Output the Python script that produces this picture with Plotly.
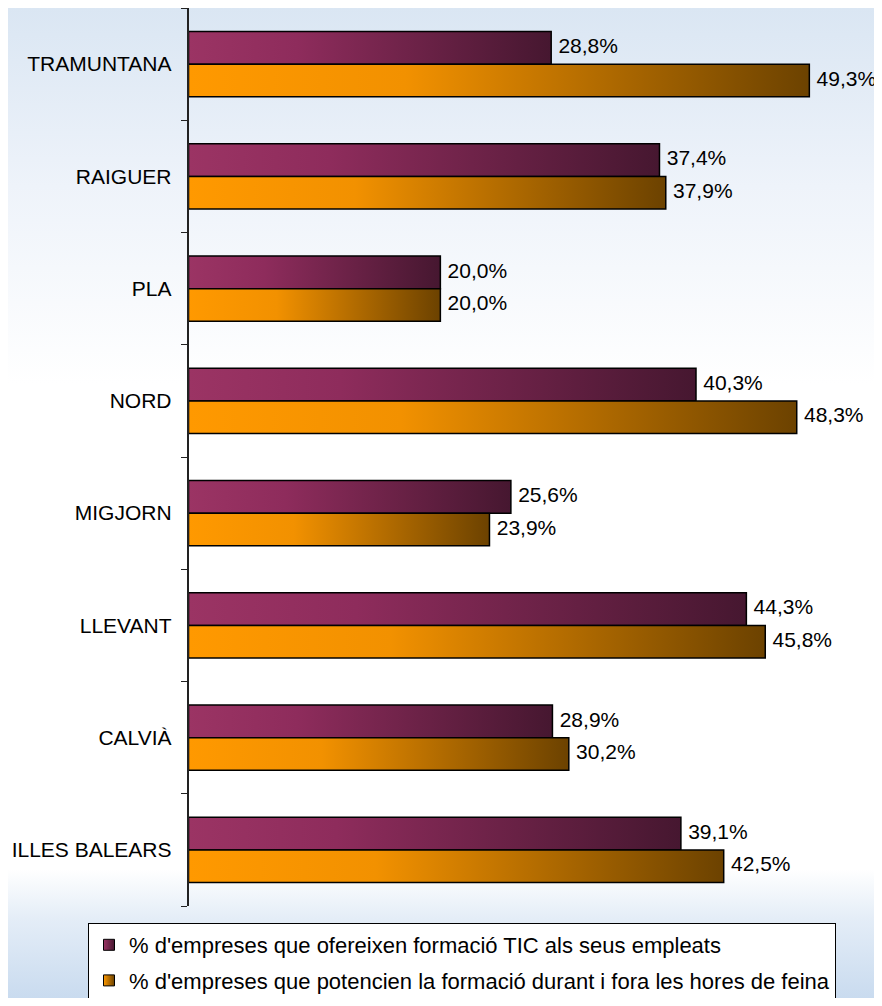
import plotly.graph_objects as go

# data
regions = ["TRAMUNTANA", "RAIGUER", "PLA", "NORD", "MIGJORN", "LLEVANT", "CALVIÀ", "ILLES BALEARS"]
formacio_tic = [28.8, 37.4, 20.0, 40.3, 25.6, 44.3, 28.9, 39.1]
formacio_hores = [49.3, 37.9, 20.0, 48.3, 23.9, 45.8, 30.2, 42.5]
series_names = [
    "% d'empreses que ofereixen formació TIC als seus empleats",
    "% d'empreses que potencien la formació durant i fora les hores de feina",
]

purple_scale = [[0, "#9b3464"], [0.3, "#8e2c5c"], [1, "#461730"]]
orange_scale = [[0, "#ff9900"], [0.35, "#f29100"], [1, "#6c4200"]]
FONT = "Liberation Sans, Arial, sans-serif"

# page body adds an 8px margin, so the figure is 874x990
W, H = 874, 990

fig = go.Figure()

# light blue background wash (own hidden axes, drawn first)
fig.add_trace(go.Scatter(
    x=[0, 1, 1, 0, 0], y=[0, 0, 1, 1, 0],
    xaxis="x", yaxis="y",
    mode="lines", line=dict(width=0), fill="toself",
    fillgradient=dict(type="vertical", colorscale=[
        [0, "#c9dbef"], [0.08, "#e4edf7"], [0.13, "#ffffff"],
        [0.62, "#ffffff"], [0.82, "#eef3fa"], [1, "#dae6f3"]]),
    hoverinfo="skip", showlegend=False,
))

half = 0.29
for k, (values, scale) in enumerate([(formacio_tic, purple_scale), (formacio_hores, orange_scale)]):
    for i, v in enumerate(values):
        y0 = i - half if k == 0 else i
        y1 = i if k == 0 else i + half
        # one gradient-filled rectangle per bar
        fig.add_trace(go.Scatter(
            x=[0, v, v, 0, 0], y=[y0, y0, y1, y1, y0],
            xaxis="x2", yaxis="y2",
            mode="lines", line=dict(color="black", width=1.5),
            fill="toself",
            fillgradient=dict(type="horizontal", colorscale=scale),
            hoverinfo="skip", showlegend=False,
        ))
    # value labels
    ys = [i - half / 2 if k == 0 else i + half / 2 for i in range(len(values))]
    fig.add_trace(go.Scatter(
        x=values, y=ys, xaxis="x2", yaxis="y2",
        mode="markers+text",
        marker=dict(size=10, color="rgba(0,0,0,0)"),
        text=[f"{v:.1f}".replace(".", ",") + "%" for v in values],
        textposition="middle right",
        textfont=dict(family=FONT, size=21, color="black"),
        hoverinfo="skip", showlegend=False,
    ))

# legend entries
for k, scale in enumerate([purple_scale, orange_scale]):
    fig.add_trace(go.Scatter(
        x=[None], y=[None], xaxis="x2", yaxis="y2",
        mode="markers", name=series_names[k], legendgroup=f"g{k}",
        marker=dict(symbol="square", size=11, color=scale[0][1],
                    gradient=dict(type="horizontal", color=scale[-1][1]),
                    line=dict(color="black", width=1)),
    ))

centers = list(range(len(regions)))
bounds = [i - 0.5 for i in range(len(regions) + 1)]

fig.update_layout(
    width=W, height=H, autosize=False,
    margin=dict(l=0, r=0, t=0, b=0, autoexpand=False),
    paper_bgcolor="white", plot_bgcolor="rgba(0,0,0,0)",
    font=dict(family=FONT, size=21, color="black"),
    xaxis=dict(domain=[0, 1], range=[0, 1], visible=False, fixedrange=True),
    yaxis=dict(domain=[0, 1], range=[0, 1], visible=False, fixedrange=True),
    xaxis2=dict(domain=[180.5 / W, 1], range=[0, 55.07], visible=False, anchor="y2"),
    yaxis2=dict(
        domain=[1 - 898 / H, 1], range=[7.5, -0.5], anchor="x2",
        tickmode="array", tickvals=centers, ticktext=regions, ticks="",
        ticklabelstandoff=11,
        showline=True, linecolor="#222222", linewidth=1.5,
        showgrid=False, zeroline=False,
        tickfont=dict(family=FONT, size=21, color="black"),
        minor=dict(tickmode="array", tickvals=bounds, ticks="outside",
                   ticklen=6, tickcolor="#222222", tickwidth=1, showgrid=False),
    ),
    legend=dict(
        x=80 / W, xanchor="left", y=1 - 915 / H, yanchor="top",
        bgcolor="white", bordercolor="black", borderwidth=1,
        font=dict(family=FONT, size=22, color="black"),
        itemwidth=30, tracegroupgap=4,
    ),
    showlegend=True,
)

fig.write_html("out.html")
